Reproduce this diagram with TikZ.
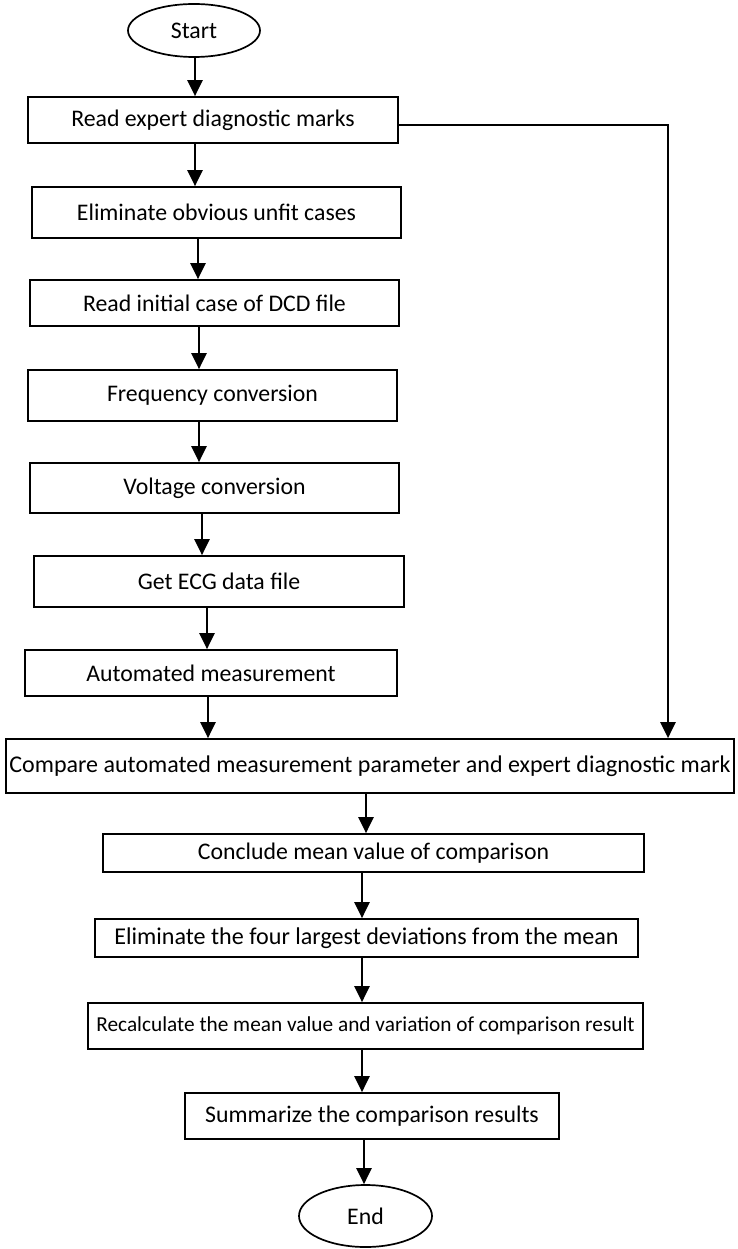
\documentclass[tikz,border=0pt]{standalone}
\usepackage{fontspec}
\setmainfont{Carlito}
\usetikzlibrary{arrows.meta,shapes.geometric}
\tikzset{
  stepbox/.style={
    shape = rectangle,
    draw,
    line width = 1.7pt,
    inner sep = 0pt,
    font = \fontsize{23.8}{28}\selectfont
  },
  terminal/.style={
    shape = ellipse,
    draw,
    line width = 1.7pt,
    inner sep = 0pt,
    font = \fontsize{23.8}{28}\selectfont
  },
  flow/.style={
    line width = 2.5pt,
    -{Triangle[width=15pt,length=16pt]}
  }
}
\begin{document}
\begin{tikzpicture}[x=1pt,y=-1pt]
  \useasboundingbox (0,0) rectangle (737,1249);
  \node[terminal, minimum width=132, minimum height=53] (start) at (194,30.5) {Start};
  \node[stepbox, minimum width=370, minimum height=46] (read) at (213,120) {Read expert diagnostic marks};
  \node[stepbox, minimum width=369, minimum height=51] (unfit) at (216.5,212.5) {Eliminate obvious unfit cases};
  \node[stepbox, minimum width=369, minimum height=46] (dcd) at (214.5,303) {Read initial case of DCD file};
  \node[stepbox, minimum width=369, minimum height=51] (freq) at (212.5,395.5) {Frequency conversion};
  \node[stepbox, minimum width=369, minimum height=50] (volt) at (214.5,488) {Voltage conversion};
  \node[stepbox, minimum width=370, minimum height=51] (ecg) at (219,581.5) {Get ECG data file};
  \node[stepbox, minimum width=372, minimum height=46] (auto) at (211,673) {Automated measurement};
  \node[stepbox, minimum width=728, minimum height=54, font=\fontsize{24}{28}\selectfont] (comp) at (370,766) {Compare automated measurement parameter and expert diagnostic mark};
  \node[stepbox, minimum width=541, minimum height=38] (mean) at (373.5,853) {Conclude mean value of comparison};
  \node[stepbox, minimum width=543, minimum height=38, font=\fontsize{24.1}{28}\selectfont] (dev) at (366.5,938) {Eliminate the four largest deviations from the mean};
  \node[stepbox, minimum width=555, minimum height=46, font=\fontsize{21.3}{25}\selectfont] (recalc) at (365.5,1026) {Recalculate the mean value and variation of comparison result};
  \node[stepbox, minimum width=374, minimum height=46] (summ) at (372,1116) {Summarize the comparison results};
  \node[terminal, minimum width=133, minimum height=62] (end) at (365.5,1216) {End};
  % main flow
  \foreach \a/\b/\x in {start/read/195, read/unfit/195, unfit/dcd/198, dcd/freq/199,
      freq/volt/199, volt/ecg/202, ecg/auto/207, auto/comp/208, comp/mean/366,
      mean/dev/362, dev/recalc/362, recalc/summ/362, summ/end/364}{
    \draw[flow] (\x,0 |- \a.south) -- (\x,0 |- \b.north);
  }
  % side branch
  \coordinate (bend) at (668,125);
  \draw[flow] (read.east |- bend) -- (bend) -- (bend |- comp.north);
\end{tikzpicture}
\end{document}
